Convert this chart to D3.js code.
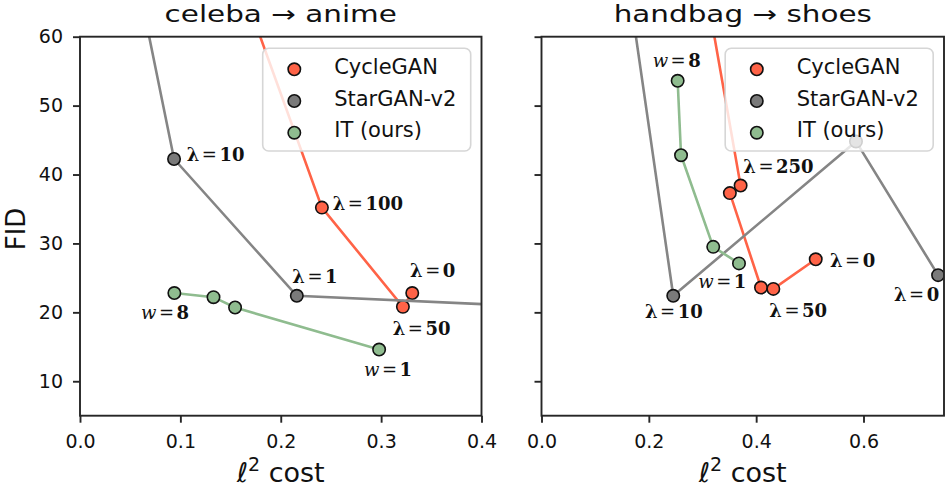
<!DOCTYPE html>
<html>
<head>
<meta charset="utf-8">
<script src="https://cdn.jsdelivr.net/npm/d3@7"></script>
<style>
body { margin: 0; background: #fff; }
svg { display: block; }
text { font-family: "DejaVu Sans", sans-serif; fill: #111; }
</style>
</head>
<body>
<svg id="chart" width="945" height="487"></svg>
<script>
// values (FID vs l2 cost); first points sit above the frame and get clipped
const seriesNames = ["CycleGAN", "StarGAN-v2", "IT (ours)"];

const celebaCycleX = [0.130, 0.241, 0.3217, 0.331];
const celebaCycleY = [80, 35.2, 20.8, 22.8];
const celebaStarX = [0.041, 0.0937, 0.216, 0.5];
const celebaStarY = [80, 42.25, 22.4, 20.55];
const celebaITX = [0.094, 0.133, 0.1545, 0.298];
const celebaITY = [22.8, 22.2, 20.7, 14.6];

const shoesCycleX = [0.277, 0.371, 0.351, 0.409, 0.432, 0.511];
const shoesCycleY = [80, 38.4, 37.3, 23.6, 23.4, 27.7];
const shoesStarX = [0.139, 0.2455, 0.586, 0.739];
const shoesStarY = [80, 22.4, 44.8, 25.4];
const shoesITX = [0.2537, 0.26, 0.32, 0.368];
const shoesITY = [53.6, 42.8, 29.5, 27.1];

// annotations (text, x, y in data units, left-aligned baseline)
const celebaLabelText = ["λ=10", "λ=100", "λ=1", "λ=0", "λ=50", "w=8", "w=1"];
const celebaLabelX = [0.1063, 0.2518, 0.2115, 0.3288, 0.3115, 0.0608, 0.2829];
const celebaLabelY = [42.0, 34.85, 24.21, 25.08, 16.71, 18.99, 10.76];

const shoesLabelText = ["w=8", "λ=250", "w=1", "λ=0", "λ=10", "λ=50", "λ=0"];
const shoesLabelX = [0.2072, 0.376, 0.2922, 0.5375, 0.1928, 0.4245, 0.6568];
const shoesLabelY = [55.56, 40.18, 23.49, 26.62, 19.13, 19.37, 21.69];

const yTicks = [10, 20, 30, 40, 50, 60];
const celebaXTicks = [0.0, 0.1, 0.2, 0.3, 0.4];
const shoesXTicks = [0.0, 0.2, 0.4, 0.6];

const colors = ["#ff6347", "#7a7a7a", "#8fbc8f"];
const lineColors = ["#ff6347", "#858585", "#8fbc8f"];

const svg = d3.select("#chart");
const plotTop = 36.7, plotBottom = 415.7;
const y = d3.scaleLinear().domain([5, 60]).range([plotBottom, plotTop]);

function panel(id, title, xDomain, xRange, xTicks, showY, series, labText, labX, labY) {
    const x = d3.scaleLinear().domain(xDomain).range(xRange);
    const g = svg.append("g");

    g.append("clipPath").attr("id", "clip" + id)
        .append("rect")
        .attr("x", xRange[0]).attr("y", plotTop)
        .attr("width", xRange[1] - xRange[0]).attr("height", plotBottom - plotTop);

    const plot = g.append("g").attr("clip-path", "url(#clip" + id + ")");
    const line = d3.line().x(d => x(d[0])).y(d => y(d[1]));

    series.forEach((s, i) => {
        const pts = s[0].map((v, k) => [v, s[1][k]]);
        plot.append("path")
            .attr("d", line(pts))
            .attr("fill", "none")
            .attr("stroke", lineColors[i])
            .attr("stroke-width", 2.6);
        plot.selectAll(null).data(pts).enter().append("circle")
            .attr("cx", d => x(d[0]))
            .attr("cy", d => y(d[1]))
            .attr("r", 6.2)
            .attr("fill", colors[i])
            .attr("stroke", "#111")
            .attr("stroke-width", 1.6);
    });

    // annotations
    labText.forEach((t, i) => {
        const txt = g.append("text")
            .attr("x", x(labX[i]))
            .attr("y", y(labY[i]))
            .style("font-family", "'DejaVu Serif', serif")
            .style("font-size", "18px")
            .style("font-weight", "bold");
        const parts = t.split("=");
        if (parts[0] == "λ") {
            txt.append("tspan").text("λ");
        } else {
            txt.append("tspan").style("font-style", "italic").style("font-weight", "normal").text(parts[0]);
        }
        txt.append("tspan").attr("dx", 2.5).style("font-weight", "normal").text("=");
        txt.append("tspan").attr("dx", 2.5).text(parts[1]);
    });

    // axes
    const xAxis = g.append("g")
        .attr("transform", "translate(0," + plotBottom + ")")
        .call(d3.axisBottom(x).tickValues(xTicks).tickFormat(d3.format(".1f")).tickSize(7).tickPadding(12));
    const yAxis = g.append("g")
        .attr("transform", "translate(" + xRange[0] + ",0)")
        .call(d3.axisLeft(y).tickValues(yTicks).tickSize(7).tickPadding(10)
            .tickFormat(showY ? d3.format("d") : ""));
    [xAxis, yAxis].forEach(a => {
        a.select(".domain").remove();
        a.selectAll(".tick line").attr("stroke", "#262626").attr("stroke-width", 1.9);
        a.selectAll(".tick text").style("font-size", "19px").style("font-family", "'DejaVu Sans', sans-serif").attr("fill", "#111");
    });

    g.append("rect")
        .attr("x", xRange[0]).attr("y", plotTop)
        .attr("width", xRange[1] - xRange[0]).attr("height", plotBottom - plotTop)
        .attr("fill", "none")
        .attr("stroke", "#262626")
        .attr("stroke-width", 1.9);

    const cx = (xRange[0] + xRange[1]) / 2;
    g.append("text")
        .attr("transform", "translate(" + cx + ",22) scale(1.28,1)")
        .attr("text-anchor", "middle")
        .style("font-size", "23px")
        .text(title);

    const xl = g.append("text")
        .attr("x", cx).attr("y", 482)
        .attr("text-anchor", "middle")
        .style("font-size", "27px");
    xl.append("tspan").style("font-style", "italic").text("ℓ");
    xl.append("tspan").attr("dy", -11).style("font-size", "19px").text("2");
    xl.append("tspan").attr("dy", 11).text(" cost");

    // legend
    const lx = xRange[1] - 218.8, ly = 48.3;
    const leg = g.append("g");
    leg.append("rect")
        .attr("x", lx).attr("y", ly)
        .attr("width", 208).attr("height", 102.7)
        .attr("rx", 6)
        .attr("fill", "#fff").attr("fill-opacity", 0.8)
        .attr("stroke", "#d6d6d6").attr("stroke-width", 1.6);
    seriesNames.forEach((name, i) => {
        const ry = ly + 21 + i * 31.7;
        leg.append("circle")
            .attr("cx", lx + 31.6).attr("cy", ry)
            .attr("r", 6.2)
            .attr("fill", colors[i])
            .attr("stroke", "#111").attr("stroke-width", 1.6);
        leg.append("text")
            .attr("x", lx + 71.5).attr("y", ry + 4.5)
            .style("font-size", "21px")
            .text(name);
    });
    return x;
}

panel("L", "celeba → anime", [0, 0.4], [80, 481.5], celebaXTicks, true,
    [[celebaCycleX, celebaCycleY], [celebaStarX, celebaStarY], [celebaITX, celebaITY]],
    celebaLabelText, celebaLabelX, celebaLabelY);

panel("R", "handbag → shoes", [0, 0.75], [541.5, 944], shoesXTicks, false,
    [[shoesCycleX, shoesCycleY], [shoesStarX, shoesStarY], [shoesITX, shoesITY]],
    shoesLabelText, shoesLabelX, shoesLabelY);

svg.append("text")
    .attr("transform", "translate(25,229) rotate(-90)")
    .attr("text-anchor", "middle")
    .style("font-size", "26px")
    .text("FID");
</script>
</body>
</html>
